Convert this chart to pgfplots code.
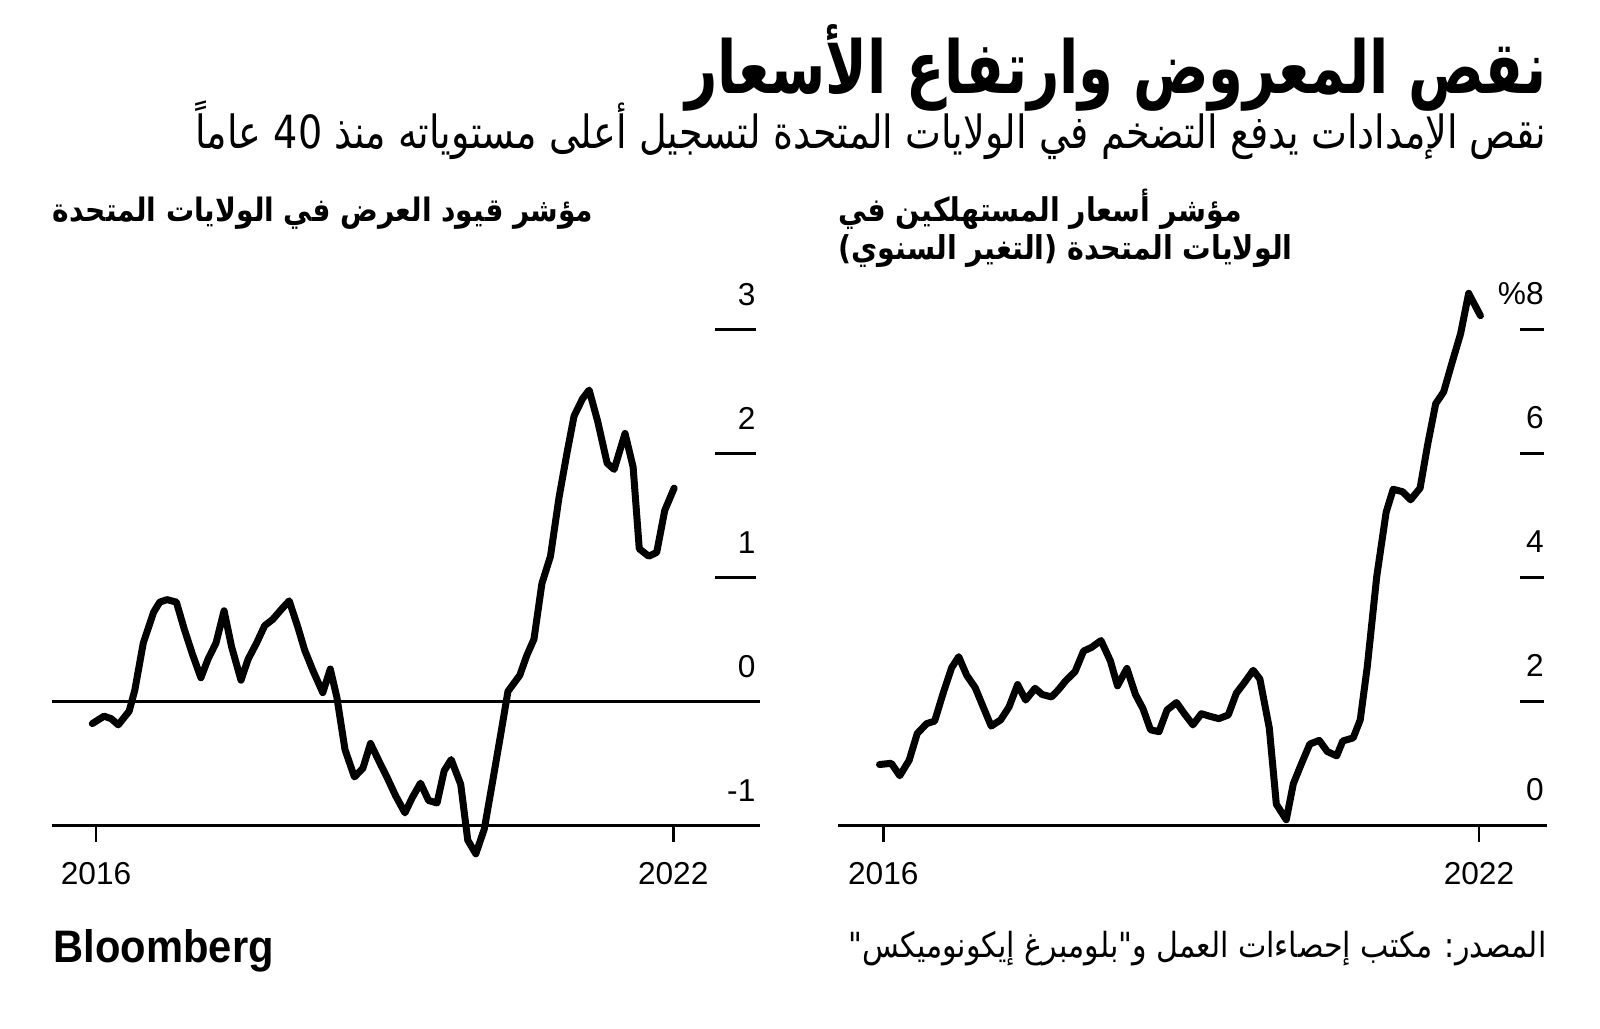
\documentclass[border=0pt]{standalone}
\usepackage{fontspec}
\usepackage{pgfplots}
\pgfplotsset{compat=1.18}
\setmainfont{Liberation Sans}
\newfontfamily\arabicfont[Script=Arabic]{DejaVu Sans}
\TeXXeTstate=1
\newcommand\tfont{\fontsize{9.5pt}{11pt}\selectfont}
\begin{document}
\begin{tikzpicture}
\path[use as bounding box] (0,0) rectangle (480pt,308.4pt);
% titles
\node[anchor=base east, inner sep=0pt] at (464.1pt,280.2pt)
  {\resizebox{258.3pt}{!}{\scalebox{1}[1.3]{\arabicfont\bfseries\beginR نقص المعروض وارتفاع الأسعار\endR}}};
\node[anchor=base east, inner sep=0pt] at (464.1pt,263.7pt)
  {\resizebox{405.3pt}{!}{\scalebox{1}[1.2]{\arabicfont\beginR نقص الإمدادات يدفع التضخم في الولايات المتحدة لتسجيل أعلى مستوياته منذ 40 عاماً\endR}}};
\node[anchor=base east, inner sep=0pt] at (178.2pt,241.8pt)
  {\resizebox{162.1pt}{!}{\scalebox{1}[1.15]{\arabicfont\bfseries\beginR مؤشر قيود العرض في الولايات المتحدة\endR}}};
\node[anchor=base west, inner sep=0pt] at (251.4pt,241.8pt)
  {\resizebox{120.9pt}{!}{\scalebox{1}[1.15]{\arabicfont\bfseries\beginR مؤشر أسعار المستهلكين في\endR}}};
\node[anchor=base west, inner sep=0pt] at (251.4pt,230.4pt)
  {\resizebox{136.2pt}{!}{\scalebox{1}[1.15]{\arabicfont\bfseries\beginR الولايات المتحدة (التغير السنوي)\endR}}};
% footer
\node[anchor=base east, inner sep=0pt] at (464.1pt,21pt)
  {\resizebox{209.4pt}{!}{\scalebox{1}[1.15]{\arabicfont\beginR المصدر: مكتب إحصاءات العمل و"بلومبرغ إيكونوميكس"\endR}}};
\node[anchor=base west, inner sep=0pt] at (15.9pt,19.8pt)
  {\resizebox{66pt}{9.9pt}{\bfseries Bloomberg}};

% left panel (x = years after 2016)
\begin{axis}[at={(15.51pt,60.81pt)}, anchor=south west, scale only axis,
  width=212.49pt, height=159.96pt,
  xmin=-0.461, xmax=6.902, ymin=-1, ymax=3.3,
  hide axis, clip=false]
\addplot[black, line width=0.8pt] coordinates {(-0.461,-1) (6.902,-1)};
\addplot[black, line width=0.8pt] coordinates {(-0.461,0) (6.902,0)};
\addplot[black, line width=0.8pt] coordinates {(6.438,1) (6.861,1)};
\addplot[black, line width=0.8pt] coordinates {(6.438,2) (6.861,2)};
\addplot[black, line width=0.8pt] coordinates {(6.438,3) (6.861,3)};
\draw[line width=0.8pt] (axis cs:0,-1) -- ++(0pt,-4.95pt);
\draw[line width=0.8pt] (axis cs:6,-1) -- ++(0pt,-4.95pt);
\node[anchor=base, inner sep=0pt, yshift=-17.9pt, font=\tfont] at (axis cs:0,-1) {2016};
\node[anchor=base, inner sep=0pt, yshift=-17.9pt, font=\tfont] at (axis cs:6,-1) {2022};
\node[anchor=base east, inner sep=0pt, yshift=7.2pt, font=\tfont] at (axis cs:6.861,3) {3};
\node[anchor=base east, inner sep=0pt, yshift=7.2pt, font=\tfont] at (axis cs:6.861,2) {2};
\node[anchor=base east, inner sep=0pt, yshift=7.2pt, font=\tfont] at (axis cs:6.861,1) {1};
\node[anchor=base east, inner sep=0pt, yshift=7.2pt, font=\tfont] at (axis cs:6.861,0) {0};
\node[anchor=base east, inner sep=0pt, yshift=7.2pt, font=\tfont] at (axis cs:6.861,-1) {-1};
\addplot[black, line width=2.1pt, line join=round, line cap=round] coordinates {
(-0.039,-0.18) (0.083,-0.12) (0.157,-0.14) (0.231,-0.19) (0.344,-0.08)
(0.403,0.09) (0.491,0.47) (0.599,0.72) (0.663,0.80) (0.737,0.82)
(0.835,0.80) (0.918,0.58) (1.002,0.38) (1.090,0.19) (1.164,0.34)
(1.247,0.47) (1.331,0.73) (1.409,0.44) (1.507,0.17) (1.581,0.34)
(1.669,0.47) (1.753,0.61) (1.836,0.66) (1.925,0.74) (2.008,0.81)
(2.097,0.60) (2.170,0.41) (2.259,0.24) (2.357,0.07) (2.435,0.26)
(2.504,0.03) (2.588,-0.39) (2.686,-0.61) (2.774,-0.54) (2.853,-0.34)
(2.946,-0.49) (3.029,-0.62) (3.113,-0.76) (3.211,-0.90) (3.285,-0.78)
(3.373,-0.66) (3.457,-0.80) (3.545,-0.82) (3.619,-0.56) (3.692,-0.47)
(3.791,-0.67) (3.864,-1.12) (3.948,-1.23) (4.036,-1.03) (4.124,-0.64)
(4.208,-0.26) (4.282,0.08) (4.405,0.21) (4.478,0.37) (4.552,0.50)
(4.635,0.95) (4.724,1.17) (4.812,1.64) (4.895,2.00) (4.969,2.30)
(5.057,2.44) (5.126,2.51) (5.214,2.26) (5.313,1.92) (5.386,1.87)
(5.499,2.16) (5.583,1.89) (5.647,1.23) (5.745,1.17) (5.828,1.20)
(5.912,1.54) (6.010,1.72)
};
\end{axis}

% right panel (x = years after 2016)
\begin{axis}[at={(251.49pt,60.81pt)}, anchor=south west, scale only axis,
  width=212.7pt, height=159.96pt,
  xmin=-0.453, xmax=6.688, ymin=0, ymax=8.6,
  hide axis, clip=false]
\addplot[black, line width=0.8pt] coordinates {(-0.453,0) (6.688,0)};
\addplot[black, line width=0.8pt] coordinates {(6.413,2) (6.658,2)};
\addplot[black, line width=0.8pt] coordinates {(6.413,4) (6.658,4)};
\addplot[black, line width=0.8pt] coordinates {(6.413,6) (6.658,6)};
\addplot[black, line width=0.8pt] coordinates {(6.413,8) (6.658,8)};
\draw[line width=0.8pt] (axis cs:0,0) -- ++(0pt,-4.95pt);
\draw[line width=0.8pt] (axis cs:6,0) -- ++(0pt,-4.95pt);
\node[anchor=base, inner sep=0pt, yshift=-17.9pt, font=\tfont] at (axis cs:0,0) {2016};
\node[anchor=base, inner sep=0pt, yshift=-17.9pt, font=\tfont] at (axis cs:6,0) {2022};
\node[anchor=base east, inner sep=0pt, yshift=7.5pt, font=\tfont] at (axis cs:6.658,8) {\%8};
\node[anchor=base east, inner sep=0pt, yshift=7.5pt, font=\tfont] at (axis cs:6.658,6) {6};
\node[anchor=base east, inner sep=0pt, yshift=7.5pt, font=\tfont] at (axis cs:6.658,4) {4};
\node[anchor=base east, inner sep=0pt, yshift=7.5pt, font=\tfont] at (axis cs:6.658,2) {2};
\node[anchor=base east, inner sep=0pt, yshift=7.5pt, font=\tfont] at (axis cs:6.658,0) {0};
\addplot[black, line width=2.1pt, line join=round, line cap=round] coordinates {
(-0.038,0.98) (0.081,1.00) (0.166,0.80) (0.261,1.05) (0.342,1.48)
(0.437,1.64) (0.517,1.68) (0.603,2.13) (0.688,2.54) (0.760,2.72)
(0.840,2.42) (0.926,2.22) (1.006,1.91) (1.087,1.60) (1.182,1.70)
(1.267,1.91) (1.353,2.27) (1.434,2.02) (1.529,2.21) (1.600,2.11)
(1.695,2.07) (1.766,2.19) (1.837,2.33) (1.932,2.48) (2.017,2.81)
(2.098,2.87) (2.193,2.98) (2.288,2.65) (2.359,2.25) (2.454,2.53)
(2.540,2.11) (2.616,1.88) (2.692,1.54) (2.777,1.51) (2.858,1.86)
(2.953,1.98) (3.033,1.80) (3.119,1.62) (3.204,1.80) (3.285,1.76)
(3.380,1.72) (3.475,1.78) (3.556,2.13) (3.641,2.31) (3.726,2.50)
(3.793,2.36) (3.888,1.57) (3.959,0.34) (4.059,0.09) (4.130,0.67)
(4.211,0.99) (4.296,1.31) (4.391,1.37) (4.472,1.19) (4.567,1.12)
(4.628,1.36) (4.733,1.41) (4.804,1.70) (4.875,2.56) (4.970,4.01)
(5.065,5.05) (5.136,5.42) (5.231,5.38) (5.312,5.25) (5.407,5.44)
(5.483,6.14) (5.564,6.80) (5.644,6.99) (5.730,7.47) (5.815,7.93)
(5.896,8.58) (6.015,8.22)
};
\end{axis}
\end{tikzpicture}
\end{document}
